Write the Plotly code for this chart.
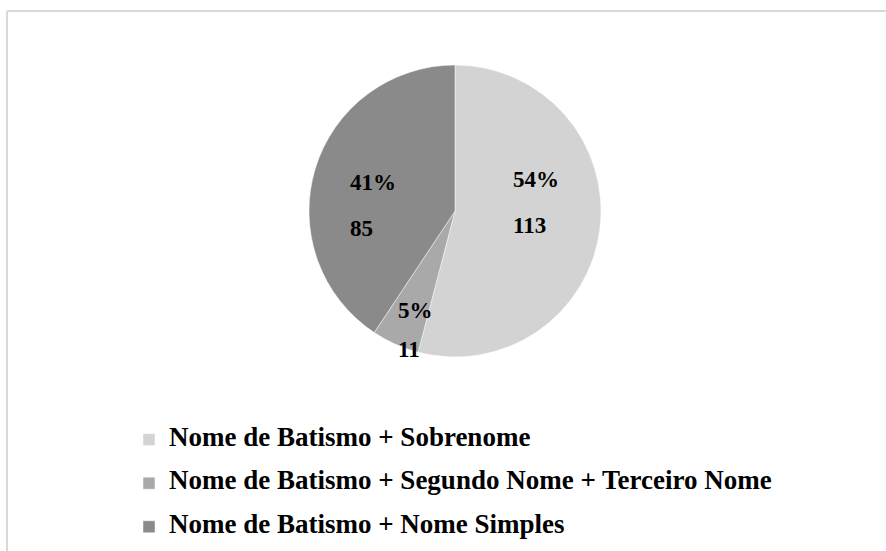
import numpy as np
import plotly.graph_objects as go

# Data
categories = [
    "Nome de Batismo + Sobrenome",
    "Nome de Batismo + Segundo Nome + Terceiro Nome",
    "Nome de Batismo + Nome Simples",
]
counts = [113, 11, 85]
slice_colors = ["#d3d3d3", "#a9a9a9", "#8a8a8a"]

# Layout geometry (pixels)
W, H = 886, 551
CX, CY, R = 455, 211, 146

# Data-label placement: angular shift (deg) from each slice bisector, radial fraction
label_shift = [-13.3, -5.8, -13.3]
label_radius = [0.561, 0.86, 0.566]

values = np.array(counts, dtype=float)
frac = values / values.sum()
pct = np.round(frac * 100).astype(int)
ends = np.cumsum(frac) * 360.0
starts = ends - frac * 360.0
mids = (starts + ends) / 2.0

LEGEND_TXT = 27
LABEL_TXT = 23

legend_labels = [
    f"<span style='font-size:{LEGEND_TXT}px'><b>{c}</b></span><br>&nbsp;" for c in categories
]

fig = go.Figure(
    go.Pie(
        labels=legend_labels,
        values=counts,
        sort=False,
        direction="clockwise",
        rotation=0,
        marker=dict(colors=slice_colors, line=dict(color="rgba(255,255,255,0.6)", width=0.8)),
        textinfo="none",
        hovertext=categories,
        hoverinfo="text+value+percent",
        domain=dict(x=[(CX - R) / W, (CX + R) / W], y=[1 - (CY + R) / H, 1 - (CY - R) / H]),
        showlegend=True,
    )
)

for i in range(len(counts)):
    ang = np.deg2rad(mids[i] + label_shift[i])
    px = CX + label_radius[i] * R * np.sin(ang)
    py = CY - label_radius[i] * R * np.cos(ang)
    fig.add_annotation(
        x=px / W, y=1 - py / H, xref="paper", yref="paper",
        text=(f"<span style='font-size:{LABEL_TXT}px'><b>{pct[i]}%</b></span><br>"
              f"<span style='font-size:{LABEL_TXT}px'><b>{counts[i]}</b></span>"),
        showarrow=False, align="left", xanchor="center", yanchor="middle",
        font=dict(family="Liberation Serif", size=35.4 if counts[i] > 20 else 30, color="black"),
    )

# Chart-area frame (left and top edges)
frame = dict(color="#d9d9d9", width=2)
fig.add_shape(type="line", xref="paper", yref="paper", x0=7 / W, x1=7 / W, y0=0, y1=1 - 11 / H, line=frame)
fig.add_shape(type="line", xref="paper", yref="paper", x0=7 / W, x1=1, y0=1 - 11 / H, y1=1 - 11 / H, line=frame)

fig.update_layout(
    width=W, height=H,
    margin=dict(l=0, r=0, t=0, b=0, autoexpand=False),
    paper_bgcolor="white", plot_bgcolor="white",
    legend=dict(
        x=129 / W, xanchor="left", y=1 - 423 / H, yanchor="top",
        font=dict(family="Liberation Serif", size=15.6, color="black"),
        valign="top", bgcolor="rgba(0,0,0,0)", itemclick=False, itemdoubleclick=False,
    ),
)

fig.write_html("out.html")
